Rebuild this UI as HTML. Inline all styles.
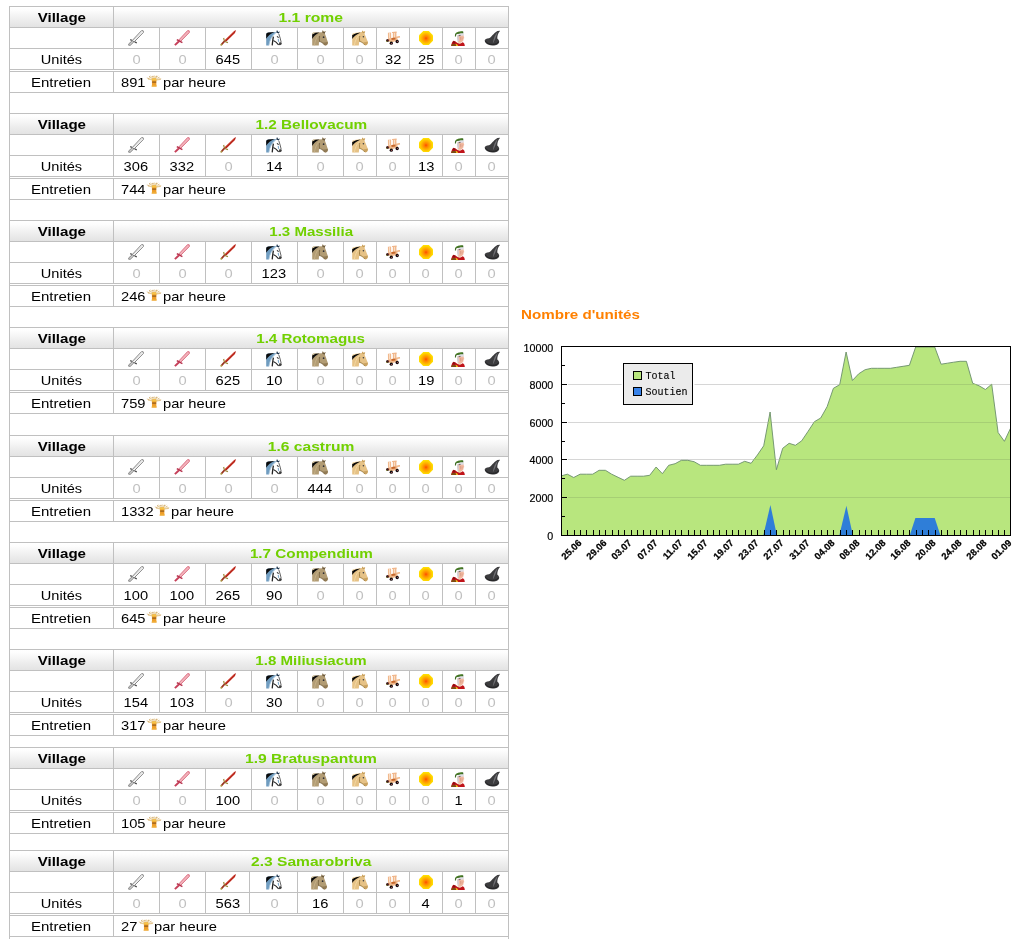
<!DOCTYPE html>
<html><head><meta charset="utf-8"><title>Statistiques</title>
<style>
html,body{margin:0;padding:0;background:#fff;}
body{width:1026px;height:942px;position:relative;overflow:hidden;font-family:"Liberation Sans",sans-serif;}
#wrap{position:absolute;left:0;top:0;width:1026px;height:942px;will-change:transform;}
.l{position:absolute;background:#c0c0c0;}
.hd{position:absolute;background:linear-gradient(to bottom,#ffffff 0%,#fdfdfd 15%,#f5f5f5 40%,#ececec 68%,#e3e3e3 100%);}
.t{position:absolute;font-size:13px;line-height:16px;white-space:nowrap;color:#000;}
.t span{display:inline-block;transform:scaleX(var(--sx,1.13));transform-origin:50% 50%;}
.t span.ls{transform-origin:0 50%;}
.t.b{font-weight:bold;}

.t.g{color:#71d000;}
.t.z{color:#c0c0c0;}
.ic{position:absolute;overflow:visible;}
.chart{position:absolute;font-family:"Liberation Sans",sans-serif;}
.yl{font-size:10.7px;fill:#000;stroke:#000;stroke-width:0.2px;}
.xl{font-size:9.5px;font-weight:bold;fill:#000;stroke:#000;stroke-width:0.25px;}
.lg{font-family:"Liberation Mono",monospace;font-size:10px;fill:#000;stroke:#000;stroke-width:0.1px;}
.title{position:absolute;left:520.8px;top:307px;font-size:13px;line-height:16px;font-weight:bold;color:#ff8000;white-space:nowrap;}
.title span{display:inline-block;transform:scaleX(1.166);transform-origin:0 50%;}
</style></head><body>
<svg width="0" height="0" style="position:absolute"><defs>
<radialGradient id="fg" cx="50%" cy="52%" r="50%"><stop offset="0" stop-color="#ff4a00"/><stop offset="0.25" stop-color="#ff8200"/><stop offset="0.55" stop-color="#ffaa00"/><stop offset="0.8" stop-color="#ffca00"/><stop offset="1" stop-color="#ffe000"/></radialGradient>
<symbol id="u1" viewBox="0 0 16 16"><path d="M2.2 9.6 L4.4 10.5 M6.6 11.9 L8.8 12.9" stroke="#4e4e4e" stroke-width="1.2"/><path d="M4.4 10.6 L5.8 12 L2.2 15.4 L0.6 15.2 L0.8 13.8 Z" fill="#c9c9c9" stroke="#787878" stroke-width="0.8"/><path d="M15.2 0.8 L13.6 0.6 L4.4 10.4 L6 12 L15.4 2.4 Z" fill="#fff" stroke="#808080" stroke-width="1"/><path d="M14 1.8 L5.4 10.8" stroke="#d8d8d8" stroke-width="0.7"/></symbol>
<symbol id="u2" viewBox="0 0 16 16"><path d="M15.2 0.8 L13.6 0.6 L4.6 10.2 L6.2 11.8 L15.4 2.4 Z" fill="#f3b2bb" stroke="#d8667a" stroke-width="0.9"/><path d="M2.8 9.6 L8.4 12.6" stroke="#b42c48" stroke-width="1.3"/><path d="M5 11.2 L0.9 15.1" stroke="#c6405a" stroke-width="2"/></symbol>
<symbol id="u3" viewBox="0 0 16 16"><path d="M15.8 0.2 L14.2 1 L4.4 10.6 L5.8 12 L15 3 Z" fill="#c9281c"/><path d="M15.6 0.6 L5.2 11.4" stroke="#8e1a12" stroke-width="0.8"/><path d="M14.6 1.2 L4.8 10.6" stroke="#e25a48" stroke-width="0.6"/><path d="M3.6 8 L4.2 10.2 L5 11.2 L6 12 L8 12.6" stroke="#9c8a3c" stroke-width="1.2" fill="none"/><path d="M4.6 11.2 L1.6 14.4" stroke="#9a3422" stroke-width="1.7"/><circle cx="1.3" cy="14.8" r="1" fill="#a8903c"/></symbol>
<symbol id="u4" viewBox="0 0 16 16"><path d="M0.2 15.6 L0.2 4.4 C0.4 3.2 1.2 2.6 2.4 2.5 L10.4 2 L10.6 0.2 L12 1.8 L13.4 1 L12.8 3.6 C14.4 6.6 15 10 15.8 13 C15.4 15 13.6 15.8 12 14.8 C10.6 13 8.6 12.4 7.6 12 L6.4 15.6 Z" fill="#fff"/><path d="M0.2 15.6 L0.2 4.4 C0.4 3.2 1.2 2.6 2.4 2.5 L10.6 2 C7 4.4 4 9 2.8 15.6 Z" fill="#6f9cc0"/><path d="M2.9 15.4 C3.6 10 6 5.4 9.8 3" fill="none" stroke="#a9c6dc" stroke-width="0.9"/><path d="M0.2 8.8 L0.2 4.4 C0.4 3.2 1.2 2.6 2.4 2.5 L8.6 2.1 C5 3.4 1.8 6 0.2 8.8 Z" fill="#0a0a0a"/><path d="M10.2 2.4 L11 0 L12.2 2 L13.9 1.4 L12.8 3.6 Z" fill="#20364e"/><path d="M7.4 6.6 C6.8 9.4 6.6 12 6.2 15.4" fill="none" stroke="#222" stroke-width="1.3"/><path d="M7.4 10.4 C9.6 11.2 11.4 13.2 12.6 14.8" fill="none" stroke="#222" stroke-width="1.1"/><path d="M13.6 12 C14.8 12 16 12.8 15.8 13.8 C15.4 15.2 13.8 15.6 12.6 14.8 Z" fill="#3e3e3e"/><path d="M12.8 3.8 C13.8 6.4 14.6 9.6 15.2 12.4" fill="none" stroke="#555" stroke-width="0.9"/><path d="M11 6.4 L12.6 7.6" stroke="#222" stroke-width="1.1"/><path d="M12.2 8.8 L12.7 11.8" stroke="#7fa8c8" stroke-width="1.1"/></symbol>
<symbol id="u5" viewBox="0 0 16 16"><path d="M0.2 15.6 L0.2 4 C0.3 3 1 2.5 2 2.5 L10.2 2.2 L10.8 0.2 L12 2 L13.6 1 L12.8 3.6 C13.8 5.6 14.6 8.6 16 12.6 C16 14.6 14.6 15.8 12.8 15.4 L10.6 13.2 C9.4 12.2 8 11.6 7 12 L6.8 15.6 Z" fill="#b29c74"/><path d="M0.2 9 L0.2 4.4 C1 3.2 2.4 2.9 4 2.8 L7.4 2.5 C4.2 4 1.6 6.4 0.2 9 Z" fill="#0a0a0a"/><path d="M0.3 3.8 C0.5 2.9 1.2 2.6 2 2.6 L4 2.6 L0.3 4.4 Z" fill="#dccfae"/><path d="M10.2 2.4 L10.8 0.2 L11.8 2.2 L13.6 1 L12.6 3.8 Z" fill="#6a583c"/><path d="M10.8 12.4 C12.4 12.8 14.2 12.4 15.7 11.8 C16.2 13.8 15 15.4 13 15.4 Z" fill="#8c7650" opacity="0.85"/><path d="M7.2 11.6 C9.4 11.6 10.8 12.8 12.6 15 M7.6 6 C7.2 8 7.2 10 7.6 11.4" fill="none" stroke="#7a6644" stroke-width="0.9"/><path d="M2.4 15.4 C3 11 4.6 7 7 4.4" fill="none" stroke="#c8b48c" stroke-width="0.8"/><circle cx="11.6" cy="7.2" r="0.85" fill="#2e2e34"/></symbol>
<symbol id="u6" viewBox="0 0 16 16"><path d="M0.2 15.6 L0.2 5 C0.4 3.8 1.2 3.1 2.4 3 L9.8 2 L10.6 0.4 L11.6 1.8 L13.2 1.2 L12.4 3.6 C13.6 6 14.6 9 16 12.2 C16 14 14.8 15.4 13.2 15.4 L10.8 13 C9.6 12 8.2 11.4 7.2 11.8 L6.8 15.6 Z" fill="#e6c286"/><path d="M0.2 9 L0.2 5.2 C1 4 2.4 3.5 4.2 3.2 L8.6 2.4 C4.6 4.2 1.6 6.6 0.2 9 Z" fill="#0a0a0a"/><path d="M0.3 4.6 C0.6 3.6 1.4 3.2 2.4 3.1 L4 2.9 L0.3 5 Z" fill="#f6e2b8"/><path d="M9.8 2.2 L10.6 0.4 L11.4 2 L13.2 1.2 L12.3 3.6 Z" fill="#c49c58"/><path d="M11 12.2 C12.6 12.6 14.2 12.2 15.7 11.6 C16.2 13.6 15 15.2 13.2 15.2 Z" fill="#c29a56" opacity="0.8"/><path d="M7.4 11.4 C9.6 11.6 10.8 12.8 12.8 15 M7.8 6 C7.4 8 7.4 10 7.8 11.2" fill="none" stroke="#9a7a3e" stroke-width="0.9"/><path d="M2.4 15.4 C3 11 4.6 7.4 7 4.8" fill="none" stroke="#f4dca8" stroke-width="0.8"/><circle cx="11.4" cy="6.8" r="0.8" fill="#3a3a3e"/></symbol>
<symbol id="u7" viewBox="0 0 16 16"><g transform="translate(0.6,-1)"><path d="M2.3 3.8 L5.5 3.4 L5.6 9.6 L2.4 9.8 Z M7.2 3.2 L10.8 2.9 L10.9 9.3 L7.3 9.5 Z" fill="#f1b98e"/><path d="M3.5 4 L4.3 4 L4.3 9.4 L3.5 9.4 Z M8.5 3.6 L9.3 3.6 L9.3 9.2 L8.5 9.2 Z" fill="#fbe6d2"/><path d="M6.4 2.9 L11 2.5 L11.1 3.8 L6.5 4.1 Z" fill="#f0b68a"/><path d="M10.5 7.7 L14.2 7.1 L14.5 8.5 L10.6 9.1 Z" fill="#eeae7a"/><path d="M2.4 9.4 L11.6 8.6 L12.2 11.6 L5.4 13.6 L2.2 11.8 Z" fill="#f1b98c"/><path d="M5.8 8.9 L9.8 8.6 L9.9 10.6 L6 11 Z" fill="#c6682c"/><circle cx="1.9" cy="11.5" r="1.5" fill="#3c1c1c"/><circle cx="1.2" cy="12.4" r="0.5" fill="#9ab83c"/><circle cx="5.7" cy="14.2" r="1.65" fill="#150b0f"/><circle cx="11.6" cy="12.5" r="1.65" fill="#150b0f"/><circle cx="6.1" cy="14.5" r="0.55" fill="#c86a6a"/><circle cx="12" cy="12.4" r="0.5" fill="#c86a6a"/><circle cx="3.4" cy="11" r="0.5" fill="#c83a1a"/><circle cx="4.6" cy="12.6" r="0.45" fill="#9ab83c"/></g></symbol>
<symbol id="u8" viewBox="0 0 16 16"><path d="M5.2 1 L10.8 1 L15 5.2 L15 10.8 L10.8 15 L5.2 15 L1 10.8 L1 5.2 Z" fill="url(#fg)"/></symbol>
<symbol id="u9" viewBox="0 0 16 16"><path d="M0.2 16 C0.4 13.6 1.4 11.4 2.4 10.8 L4.4 11.6 L6.6 13 L10 13.2 L11.6 12.2 C13 12.6 13.8 14.2 13.8 16 Z" fill="#c0141a"/><path d="M2.4 10.9 L4.6 11.8 L3.8 13.6 L1.6 13.2 Z" fill="#8e0e12"/><path d="M0.2 16 L0.8 13.9 L4.8 13.9 L5.4 16 Z" fill="#7e4c12"/><path d="M4.6 13.8 L6.2 14.6 L7.2 16 L5.2 16 Z" fill="#f2c21e"/><path d="M6.6 11 L10.2 11 L10.4 13 L8.6 13.8 L6.6 13 Z" fill="#f0d6be"/><path d="M6.4 5.2 L12.4 4.6 L12.8 6.6 L13.3 8 L12.6 8.8 L12.4 10.6 L11 12 L8.8 12.4 L6.8 11.4 L6.2 8 Z" fill="#f2b9a0"/><path d="M6.4 5.6 L7.6 5.6 L7.9 11.6 L6.8 11.2 L6.2 8 Z" fill="#cfd0da"/><path d="M9.4 7 L9.8 10.4 M11 7.4 L11.2 9.6" stroke="#d89a84" stroke-width="0.8" fill="none"/><path d="M7.4 3.6 L12.6 3.2 L12.9 5.4 L10.4 5.8 L7.6 5.9 Z" fill="#dedee6"/><path d="M7.6 5.7 L9.6 5.4" stroke="#5a4a4a" stroke-width="0.8"/><path d="M4.4 3.4 C6 2 9.6 1 12.2 1.4 L12.4 3.2 C10 3 7 3.6 5.2 4.6 L5 6.4 L3.9 6.6 L4 4.6 Z" fill="#3c6a22"/><path d="M5.4 3.2 L7.4 2.4 M8.6 2.2 L11 1.9" stroke="#5c962e" stroke-width="0.7"/></symbol>
<symbol id="u10" viewBox="0 0 16 16"><path d="M16.2 0.7 L13.4 0.9 C11.4 2.2 9.6 3.8 8.6 5 C7.4 6.6 6.4 7.6 5 8.2 C2.6 8.4 0.7 9.2 0.7 10.6 C0.9 13.4 4 15.4 8.2 15.6 C12 15.8 15.2 14.2 15.2 11.8 C15.2 10.4 14.4 9.4 13.3 8.4 C13.2 5.6 14.2 2.8 16.2 0.7 Z" fill="#3c3c3e"/><path d="M13.6 2 C11.2 4.6 9.4 8 8.8 13.4 C10.8 10.4 12.2 6.4 13.6 2 Z" fill="#707074"/><path d="M1.4 11 C2.4 13.2 5.4 14.4 8.4 14.4 C11.4 14.4 13.8 13.4 14.4 11.8" fill="none" stroke="#1e1e20" stroke-width="0.9"/></symbol>
<symbol id="wheat" viewBox="0 0 16 12"><g stroke="#e3c486" stroke-width="0.9" stroke-linecap="round" opacity="0.9" fill="none"><path d="M8 5.4 L1.2 3 M8 5.4 L2.6 4.2 M8 5.4 L3.4 1.6 M8 5.4 L4.8 1 M8 5.4 L6.6 1.3 M8 5.4 L8.3 0.9 M8 5.4 L10 1.1 M8 5.4 L11.6 1 M8 5.4 L13 2.2 M8 5.4 L14.8 3.8 M8 5.4 L13.8 4.6"/></g><g fill="#c89c62" opacity="0.85"><circle cx="3.6" cy="1.8" r="0.6"/><circle cx="7" cy="1.4" r="0.6"/><circle cx="10.6" cy="1.3" r="0.6"/><circle cx="13" cy="3" r="0.6"/><circle cx="2.4" cy="3.8" r="0.5"/><circle cx="14.2" cy="4.2" r="0.5"/></g><path d="M6.3 3.6 L10 3.6 L10.4 5.4 L10.3 11 L10.7 11.4 L5.6 11.4 L6 11 L5.9 5.4 Z" fill="#ee9c2a"/><path d="M6.3 3.6 L10 3.6 L10.4 5.6 L5.9 5.6 Z" fill="#f5c448"/><path d="M6.2 6.5 L10.2 6.5 L10.2 7.7 L6.2 7.7 Z" fill="#6e4416" opacity="0.75"/><path d="M6 9.8 L10.3 9.8 L10.7 11.4 L5.6 11.4 Z" fill="#f0ac34"/></symbol>
</defs></svg>

<div id="wrap">
<div class="l" style="left:9px;top:6px;width:1px;height:933px"></div>
<div class="l" style="left:508px;top:6px;width:1px;height:933px"></div>
<div class="hd" style="left:10px;top:7px;width:498px;height:20px"></div>
<div class="l" style="left:9px;top:6px;width:500px;height:1px"></div>
<div class="l" style="left:9px;top:27px;width:500px;height:1px"></div>
<div class="l" style="left:9px;top:48px;width:500px;height:1px"></div>
<div class="l" style="left:9px;top:69px;width:500px;height:1px"></div>
<div class="l" style="left:9px;top:71px;width:500px;height:1px"></div>
<div class="l" style="left:9px;top:92px;width:500px;height:1px"></div>
<div class="l" style="left:113px;top:6px;width:1px;height:64px"></div>
<div class="l" style="left:113px;top:71px;width:1px;height:22px"></div>
<div class="l" style="left:159px;top:27px;width:1px;height:43px"></div>
<div class="l" style="left:205px;top:27px;width:1px;height:43px"></div>
<div class="l" style="left:251px;top:27px;width:1px;height:43px"></div>
<div class="l" style="left:297px;top:27px;width:1px;height:43px"></div>
<div class="l" style="left:343px;top:27px;width:1px;height:43px"></div>
<div class="l" style="left:376px;top:27px;width:1px;height:43px"></div>
<div class="l" style="left:409px;top:27px;width:1px;height:43px"></div>
<div class="l" style="left:442px;top:27px;width:1px;height:43px"></div>
<div class="l" style="left:475px;top:27px;width:1px;height:43px"></div>
<div class="t b" style="left:-88.6px;top:10px;width:300px;text-align:center;--sx:1.16;"><span>Village</span></div>
<div class="t b g" style="left:161.0px;top:10px;width:300px;text-align:center;--sx:1.207;"><span>1.1 rome</span></div>
<div class="t n" style="left:-88.7px;top:52px;width:300px;text-align:center;--sx:1.12;"><span>Unit&eacute;s</span></div>
<div class="t n" style="left:-89.0px;top:75px;width:300px;text-align:center;--sx:1.155;"><span>Entretien</span></div>
<svg class="ic" style="left:128px;top:30px" width="16" height="16" viewBox="0 0 16 16"><use href="#u1"/></svg>
<div class="t n z" style="left:-13.7px;top:52px;width:300px;text-align:center;"><span>0</span></div>
<svg class="ic" style="left:174px;top:30px" width="16" height="16" viewBox="0 0 16 16"><use href="#u2"/></svg>
<div class="t n z" style="left:32.3px;top:52px;width:300px;text-align:center;"><span>0</span></div>
<svg class="ic" style="left:220px;top:30px" width="16" height="16" viewBox="0 0 16 16"><use href="#u3"/></svg>
<div class="t n" style="left:78.3px;top:52px;width:300px;text-align:center;"><span>645</span></div>
<svg class="ic" style="left:266px;top:30px" width="16" height="16" viewBox="0 0 16 16"><use href="#u4"/></svg>
<div class="t n z" style="left:124.3px;top:52px;width:300px;text-align:center;"><span>0</span></div>
<svg class="ic" style="left:312px;top:30px" width="16" height="16" viewBox="0 0 16 16"><use href="#u5"/></svg>
<div class="t n z" style="left:170.3px;top:52px;width:300px;text-align:center;"><span>0</span></div>
<svg class="ic" style="left:352px;top:30px" width="16" height="16" viewBox="0 0 16 16"><use href="#u6"/></svg>
<div class="t n z" style="left:209.8px;top:52px;width:300px;text-align:center;"><span>0</span></div>
<svg class="ic" style="left:385px;top:30px" width="16" height="16" viewBox="0 0 16 16"><use href="#u7"/></svg>
<div class="t n" style="left:242.8px;top:52px;width:300px;text-align:center;"><span>32</span></div>
<svg class="ic" style="left:418px;top:30px" width="16" height="16" viewBox="0 0 16 16"><use href="#u8"/></svg>
<div class="t n" style="left:275.8px;top:52px;width:300px;text-align:center;"><span>25</span></div>
<svg class="ic" style="left:451px;top:30px" width="16" height="16" viewBox="0 0 16 16"><use href="#u9"/></svg>
<div class="t n z" style="left:308.8px;top:52px;width:300px;text-align:center;"><span>0</span></div>
<svg class="ic" style="left:484px;top:30px" width="16" height="16" viewBox="0 0 16 16"><use href="#u10"/></svg>
<div class="t n z" style="left:341.8px;top:52px;width:300px;text-align:center;"><span>0</span></div>
<div class="t n" style="left:120.5px;top:75px;text-align:left;"><span class="ls">891</span></div>
<svg class="ic" style="left:145.8px;top:75px" width="16" height="12" viewBox="0 0 16 12"><use href="#wheat"/></svg>
<div class="t n" style="left:162.5px;top:75px;text-align:left;"><span class="ls">par heure</span></div>
<div class="hd" style="left:10px;top:114px;width:498px;height:20px"></div>
<div class="l" style="left:9px;top:113px;width:500px;height:1px"></div>
<div class="l" style="left:9px;top:134px;width:500px;height:1px"></div>
<div class="l" style="left:9px;top:155px;width:500px;height:1px"></div>
<div class="l" style="left:9px;top:176px;width:500px;height:1px"></div>
<div class="l" style="left:9px;top:178px;width:500px;height:1px"></div>
<div class="l" style="left:9px;top:199px;width:500px;height:1px"></div>
<div class="l" style="left:113px;top:113px;width:1px;height:64px"></div>
<div class="l" style="left:113px;top:178px;width:1px;height:22px"></div>
<div class="l" style="left:159px;top:134px;width:1px;height:43px"></div>
<div class="l" style="left:205px;top:134px;width:1px;height:43px"></div>
<div class="l" style="left:251px;top:134px;width:1px;height:43px"></div>
<div class="l" style="left:297px;top:134px;width:1px;height:43px"></div>
<div class="l" style="left:343px;top:134px;width:1px;height:43px"></div>
<div class="l" style="left:376px;top:134px;width:1px;height:43px"></div>
<div class="l" style="left:409px;top:134px;width:1px;height:43px"></div>
<div class="l" style="left:442px;top:134px;width:1px;height:43px"></div>
<div class="l" style="left:475px;top:134px;width:1px;height:43px"></div>
<div class="t b" style="left:-88.6px;top:117px;width:300px;text-align:center;--sx:1.16;"><span>Village</span></div>
<div class="t b g" style="left:161.0px;top:117px;width:300px;text-align:center;--sx:1.182;"><span>1.2 Bellovacum</span></div>
<div class="t n" style="left:-88.7px;top:159px;width:300px;text-align:center;--sx:1.12;"><span>Unit&eacute;s</span></div>
<div class="t n" style="left:-89.0px;top:182px;width:300px;text-align:center;--sx:1.155;"><span>Entretien</span></div>
<svg class="ic" style="left:128px;top:137px" width="16" height="16" viewBox="0 0 16 16"><use href="#u1"/></svg>
<div class="t n" style="left:-13.7px;top:159px;width:300px;text-align:center;"><span>306</span></div>
<svg class="ic" style="left:174px;top:137px" width="16" height="16" viewBox="0 0 16 16"><use href="#u2"/></svg>
<div class="t n" style="left:32.3px;top:159px;width:300px;text-align:center;"><span>332</span></div>
<svg class="ic" style="left:220px;top:137px" width="16" height="16" viewBox="0 0 16 16"><use href="#u3"/></svg>
<div class="t n z" style="left:78.3px;top:159px;width:300px;text-align:center;"><span>0</span></div>
<svg class="ic" style="left:266px;top:137px" width="16" height="16" viewBox="0 0 16 16"><use href="#u4"/></svg>
<div class="t n" style="left:124.3px;top:159px;width:300px;text-align:center;"><span>14</span></div>
<svg class="ic" style="left:312px;top:137px" width="16" height="16" viewBox="0 0 16 16"><use href="#u5"/></svg>
<div class="t n z" style="left:170.3px;top:159px;width:300px;text-align:center;"><span>0</span></div>
<svg class="ic" style="left:352px;top:137px" width="16" height="16" viewBox="0 0 16 16"><use href="#u6"/></svg>
<div class="t n z" style="left:209.8px;top:159px;width:300px;text-align:center;"><span>0</span></div>
<svg class="ic" style="left:385px;top:137px" width="16" height="16" viewBox="0 0 16 16"><use href="#u7"/></svg>
<div class="t n z" style="left:242.8px;top:159px;width:300px;text-align:center;"><span>0</span></div>
<svg class="ic" style="left:418px;top:137px" width="16" height="16" viewBox="0 0 16 16"><use href="#u8"/></svg>
<div class="t n" style="left:275.8px;top:159px;width:300px;text-align:center;"><span>13</span></div>
<svg class="ic" style="left:451px;top:137px" width="16" height="16" viewBox="0 0 16 16"><use href="#u9"/></svg>
<div class="t n z" style="left:308.8px;top:159px;width:300px;text-align:center;"><span>0</span></div>
<svg class="ic" style="left:484px;top:137px" width="16" height="16" viewBox="0 0 16 16"><use href="#u10"/></svg>
<div class="t n z" style="left:341.8px;top:159px;width:300px;text-align:center;"><span>0</span></div>
<div class="t n" style="left:120.5px;top:182px;text-align:left;"><span class="ls">744</span></div>
<svg class="ic" style="left:145.8px;top:182px" width="16" height="12" viewBox="0 0 16 12"><use href="#wheat"/></svg>
<div class="t n" style="left:162.5px;top:182px;text-align:left;"><span class="ls">par heure</span></div>
<div class="hd" style="left:10px;top:221px;width:498px;height:20px"></div>
<div class="l" style="left:9px;top:220px;width:500px;height:1px"></div>
<div class="l" style="left:9px;top:241px;width:500px;height:1px"></div>
<div class="l" style="left:9px;top:262px;width:500px;height:1px"></div>
<div class="l" style="left:9px;top:283px;width:500px;height:1px"></div>
<div class="l" style="left:9px;top:285px;width:500px;height:1px"></div>
<div class="l" style="left:9px;top:306px;width:500px;height:1px"></div>
<div class="l" style="left:113px;top:220px;width:1px;height:64px"></div>
<div class="l" style="left:113px;top:285px;width:1px;height:22px"></div>
<div class="l" style="left:159px;top:241px;width:1px;height:43px"></div>
<div class="l" style="left:205px;top:241px;width:1px;height:43px"></div>
<div class="l" style="left:251px;top:241px;width:1px;height:43px"></div>
<div class="l" style="left:297px;top:241px;width:1px;height:43px"></div>
<div class="l" style="left:343px;top:241px;width:1px;height:43px"></div>
<div class="l" style="left:376px;top:241px;width:1px;height:43px"></div>
<div class="l" style="left:409px;top:241px;width:1px;height:43px"></div>
<div class="l" style="left:442px;top:241px;width:1px;height:43px"></div>
<div class="l" style="left:475px;top:241px;width:1px;height:43px"></div>
<div class="t b" style="left:-88.6px;top:224px;width:300px;text-align:center;--sx:1.16;"><span>Village</span></div>
<div class="t b g" style="left:161.0px;top:224px;width:300px;text-align:center;--sx:1.159;"><span>1.3 Massilia</span></div>
<div class="t n" style="left:-88.7px;top:266px;width:300px;text-align:center;--sx:1.12;"><span>Unit&eacute;s</span></div>
<div class="t n" style="left:-89.0px;top:289px;width:300px;text-align:center;--sx:1.155;"><span>Entretien</span></div>
<svg class="ic" style="left:128px;top:244px" width="16" height="16" viewBox="0 0 16 16"><use href="#u1"/></svg>
<div class="t n z" style="left:-13.7px;top:266px;width:300px;text-align:center;"><span>0</span></div>
<svg class="ic" style="left:174px;top:244px" width="16" height="16" viewBox="0 0 16 16"><use href="#u2"/></svg>
<div class="t n z" style="left:32.3px;top:266px;width:300px;text-align:center;"><span>0</span></div>
<svg class="ic" style="left:220px;top:244px" width="16" height="16" viewBox="0 0 16 16"><use href="#u3"/></svg>
<div class="t n z" style="left:78.3px;top:266px;width:300px;text-align:center;"><span>0</span></div>
<svg class="ic" style="left:266px;top:244px" width="16" height="16" viewBox="0 0 16 16"><use href="#u4"/></svg>
<div class="t n" style="left:124.3px;top:266px;width:300px;text-align:center;"><span>123</span></div>
<svg class="ic" style="left:312px;top:244px" width="16" height="16" viewBox="0 0 16 16"><use href="#u5"/></svg>
<div class="t n z" style="left:170.3px;top:266px;width:300px;text-align:center;"><span>0</span></div>
<svg class="ic" style="left:352px;top:244px" width="16" height="16" viewBox="0 0 16 16"><use href="#u6"/></svg>
<div class="t n z" style="left:209.8px;top:266px;width:300px;text-align:center;"><span>0</span></div>
<svg class="ic" style="left:385px;top:244px" width="16" height="16" viewBox="0 0 16 16"><use href="#u7"/></svg>
<div class="t n z" style="left:242.8px;top:266px;width:300px;text-align:center;"><span>0</span></div>
<svg class="ic" style="left:418px;top:244px" width="16" height="16" viewBox="0 0 16 16"><use href="#u8"/></svg>
<div class="t n z" style="left:275.8px;top:266px;width:300px;text-align:center;"><span>0</span></div>
<svg class="ic" style="left:451px;top:244px" width="16" height="16" viewBox="0 0 16 16"><use href="#u9"/></svg>
<div class="t n z" style="left:308.8px;top:266px;width:300px;text-align:center;"><span>0</span></div>
<svg class="ic" style="left:484px;top:244px" width="16" height="16" viewBox="0 0 16 16"><use href="#u10"/></svg>
<div class="t n z" style="left:341.8px;top:266px;width:300px;text-align:center;"><span>0</span></div>
<div class="t n" style="left:120.5px;top:289px;text-align:left;"><span class="ls">246</span></div>
<svg class="ic" style="left:145.8px;top:289px" width="16" height="12" viewBox="0 0 16 12"><use href="#wheat"/></svg>
<div class="t n" style="left:162.5px;top:289px;text-align:left;"><span class="ls">par heure</span></div>
<div class="hd" style="left:10px;top:328px;width:498px;height:20px"></div>
<div class="l" style="left:9px;top:327px;width:500px;height:1px"></div>
<div class="l" style="left:9px;top:348px;width:500px;height:1px"></div>
<div class="l" style="left:9px;top:369px;width:500px;height:1px"></div>
<div class="l" style="left:9px;top:390px;width:500px;height:1px"></div>
<div class="l" style="left:9px;top:392px;width:500px;height:1px"></div>
<div class="l" style="left:9px;top:413px;width:500px;height:1px"></div>
<div class="l" style="left:113px;top:327px;width:1px;height:64px"></div>
<div class="l" style="left:113px;top:392px;width:1px;height:22px"></div>
<div class="l" style="left:159px;top:348px;width:1px;height:43px"></div>
<div class="l" style="left:205px;top:348px;width:1px;height:43px"></div>
<div class="l" style="left:251px;top:348px;width:1px;height:43px"></div>
<div class="l" style="left:297px;top:348px;width:1px;height:43px"></div>
<div class="l" style="left:343px;top:348px;width:1px;height:43px"></div>
<div class="l" style="left:376px;top:348px;width:1px;height:43px"></div>
<div class="l" style="left:409px;top:348px;width:1px;height:43px"></div>
<div class="l" style="left:442px;top:348px;width:1px;height:43px"></div>
<div class="l" style="left:475px;top:348px;width:1px;height:43px"></div>
<div class="t b" style="left:-88.6px;top:331px;width:300px;text-align:center;--sx:1.16;"><span>Village</span></div>
<div class="t b g" style="left:161.0px;top:331px;width:300px;text-align:center;--sx:1.167;"><span>1.4 Rotomagus</span></div>
<div class="t n" style="left:-88.7px;top:373px;width:300px;text-align:center;--sx:1.12;"><span>Unit&eacute;s</span></div>
<div class="t n" style="left:-89.0px;top:396px;width:300px;text-align:center;--sx:1.155;"><span>Entretien</span></div>
<svg class="ic" style="left:128px;top:351px" width="16" height="16" viewBox="0 0 16 16"><use href="#u1"/></svg>
<div class="t n z" style="left:-13.7px;top:373px;width:300px;text-align:center;"><span>0</span></div>
<svg class="ic" style="left:174px;top:351px" width="16" height="16" viewBox="0 0 16 16"><use href="#u2"/></svg>
<div class="t n z" style="left:32.3px;top:373px;width:300px;text-align:center;"><span>0</span></div>
<svg class="ic" style="left:220px;top:351px" width="16" height="16" viewBox="0 0 16 16"><use href="#u3"/></svg>
<div class="t n" style="left:78.3px;top:373px;width:300px;text-align:center;"><span>625</span></div>
<svg class="ic" style="left:266px;top:351px" width="16" height="16" viewBox="0 0 16 16"><use href="#u4"/></svg>
<div class="t n" style="left:124.3px;top:373px;width:300px;text-align:center;"><span>10</span></div>
<svg class="ic" style="left:312px;top:351px" width="16" height="16" viewBox="0 0 16 16"><use href="#u5"/></svg>
<div class="t n z" style="left:170.3px;top:373px;width:300px;text-align:center;"><span>0</span></div>
<svg class="ic" style="left:352px;top:351px" width="16" height="16" viewBox="0 0 16 16"><use href="#u6"/></svg>
<div class="t n z" style="left:209.8px;top:373px;width:300px;text-align:center;"><span>0</span></div>
<svg class="ic" style="left:385px;top:351px" width="16" height="16" viewBox="0 0 16 16"><use href="#u7"/></svg>
<div class="t n z" style="left:242.8px;top:373px;width:300px;text-align:center;"><span>0</span></div>
<svg class="ic" style="left:418px;top:351px" width="16" height="16" viewBox="0 0 16 16"><use href="#u8"/></svg>
<div class="t n" style="left:275.8px;top:373px;width:300px;text-align:center;"><span>19</span></div>
<svg class="ic" style="left:451px;top:351px" width="16" height="16" viewBox="0 0 16 16"><use href="#u9"/></svg>
<div class="t n z" style="left:308.8px;top:373px;width:300px;text-align:center;"><span>0</span></div>
<svg class="ic" style="left:484px;top:351px" width="16" height="16" viewBox="0 0 16 16"><use href="#u10"/></svg>
<div class="t n z" style="left:341.8px;top:373px;width:300px;text-align:center;"><span>0</span></div>
<div class="t n" style="left:120.5px;top:396px;text-align:left;"><span class="ls">759</span></div>
<svg class="ic" style="left:145.8px;top:396px" width="16" height="12" viewBox="0 0 16 12"><use href="#wheat"/></svg>
<div class="t n" style="left:162.5px;top:396px;text-align:left;"><span class="ls">par heure</span></div>
<div class="hd" style="left:10px;top:436px;width:498px;height:20px"></div>
<div class="l" style="left:9px;top:435px;width:500px;height:1px"></div>
<div class="l" style="left:9px;top:456px;width:500px;height:1px"></div>
<div class="l" style="left:9px;top:477px;width:500px;height:1px"></div>
<div class="l" style="left:9px;top:498px;width:500px;height:1px"></div>
<div class="l" style="left:9px;top:500px;width:500px;height:1px"></div>
<div class="l" style="left:9px;top:521px;width:500px;height:1px"></div>
<div class="l" style="left:113px;top:435px;width:1px;height:64px"></div>
<div class="l" style="left:113px;top:500px;width:1px;height:22px"></div>
<div class="l" style="left:159px;top:456px;width:1px;height:43px"></div>
<div class="l" style="left:205px;top:456px;width:1px;height:43px"></div>
<div class="l" style="left:251px;top:456px;width:1px;height:43px"></div>
<div class="l" style="left:297px;top:456px;width:1px;height:43px"></div>
<div class="l" style="left:343px;top:456px;width:1px;height:43px"></div>
<div class="l" style="left:376px;top:456px;width:1px;height:43px"></div>
<div class="l" style="left:409px;top:456px;width:1px;height:43px"></div>
<div class="l" style="left:442px;top:456px;width:1px;height:43px"></div>
<div class="l" style="left:475px;top:456px;width:1px;height:43px"></div>
<div class="t b" style="left:-88.6px;top:439px;width:300px;text-align:center;--sx:1.16;"><span>Village</span></div>
<div class="t b g" style="left:161.0px;top:439px;width:300px;text-align:center;--sx:1.200;"><span>1.6 castrum</span></div>
<div class="t n" style="left:-88.7px;top:481px;width:300px;text-align:center;--sx:1.12;"><span>Unit&eacute;s</span></div>
<div class="t n" style="left:-89.0px;top:504px;width:300px;text-align:center;--sx:1.155;"><span>Entretien</span></div>
<svg class="ic" style="left:128px;top:459px" width="16" height="16" viewBox="0 0 16 16"><use href="#u1"/></svg>
<div class="t n z" style="left:-13.7px;top:481px;width:300px;text-align:center;"><span>0</span></div>
<svg class="ic" style="left:174px;top:459px" width="16" height="16" viewBox="0 0 16 16"><use href="#u2"/></svg>
<div class="t n z" style="left:32.3px;top:481px;width:300px;text-align:center;"><span>0</span></div>
<svg class="ic" style="left:220px;top:459px" width="16" height="16" viewBox="0 0 16 16"><use href="#u3"/></svg>
<div class="t n z" style="left:78.3px;top:481px;width:300px;text-align:center;"><span>0</span></div>
<svg class="ic" style="left:266px;top:459px" width="16" height="16" viewBox="0 0 16 16"><use href="#u4"/></svg>
<div class="t n z" style="left:124.3px;top:481px;width:300px;text-align:center;"><span>0</span></div>
<svg class="ic" style="left:312px;top:459px" width="16" height="16" viewBox="0 0 16 16"><use href="#u5"/></svg>
<div class="t n" style="left:170.3px;top:481px;width:300px;text-align:center;"><span>444</span></div>
<svg class="ic" style="left:352px;top:459px" width="16" height="16" viewBox="0 0 16 16"><use href="#u6"/></svg>
<div class="t n z" style="left:209.8px;top:481px;width:300px;text-align:center;"><span>0</span></div>
<svg class="ic" style="left:385px;top:459px" width="16" height="16" viewBox="0 0 16 16"><use href="#u7"/></svg>
<div class="t n z" style="left:242.8px;top:481px;width:300px;text-align:center;"><span>0</span></div>
<svg class="ic" style="left:418px;top:459px" width="16" height="16" viewBox="0 0 16 16"><use href="#u8"/></svg>
<div class="t n z" style="left:275.8px;top:481px;width:300px;text-align:center;"><span>0</span></div>
<svg class="ic" style="left:451px;top:459px" width="16" height="16" viewBox="0 0 16 16"><use href="#u9"/></svg>
<div class="t n z" style="left:308.8px;top:481px;width:300px;text-align:center;"><span>0</span></div>
<svg class="ic" style="left:484px;top:459px" width="16" height="16" viewBox="0 0 16 16"><use href="#u10"/></svg>
<div class="t n z" style="left:341.8px;top:481px;width:300px;text-align:center;"><span>0</span></div>
<div class="t n" style="left:120.5px;top:504px;text-align:left;"><span class="ls">1332</span></div>
<svg class="ic" style="left:154.1px;top:504px" width="16" height="12" viewBox="0 0 16 12"><use href="#wheat"/></svg>
<div class="t n" style="left:170.8px;top:504px;text-align:left;"><span class="ls">par heure</span></div>
<div class="hd" style="left:10px;top:543px;width:498px;height:20px"></div>
<div class="l" style="left:9px;top:542px;width:500px;height:1px"></div>
<div class="l" style="left:9px;top:563px;width:500px;height:1px"></div>
<div class="l" style="left:9px;top:584px;width:500px;height:1px"></div>
<div class="l" style="left:9px;top:605px;width:500px;height:1px"></div>
<div class="l" style="left:9px;top:607px;width:500px;height:1px"></div>
<div class="l" style="left:9px;top:628px;width:500px;height:1px"></div>
<div class="l" style="left:113px;top:542px;width:1px;height:64px"></div>
<div class="l" style="left:113px;top:607px;width:1px;height:22px"></div>
<div class="l" style="left:159px;top:563px;width:1px;height:43px"></div>
<div class="l" style="left:205px;top:563px;width:1px;height:43px"></div>
<div class="l" style="left:251px;top:563px;width:1px;height:43px"></div>
<div class="l" style="left:297px;top:563px;width:1px;height:43px"></div>
<div class="l" style="left:343px;top:563px;width:1px;height:43px"></div>
<div class="l" style="left:376px;top:563px;width:1px;height:43px"></div>
<div class="l" style="left:409px;top:563px;width:1px;height:43px"></div>
<div class="l" style="left:442px;top:563px;width:1px;height:43px"></div>
<div class="l" style="left:475px;top:563px;width:1px;height:43px"></div>
<div class="t b" style="left:-88.6px;top:546px;width:300px;text-align:center;--sx:1.16;"><span>Village</span></div>
<div class="t b g" style="left:161.0px;top:546px;width:300px;text-align:center;--sx:1.174;"><span>1.7 Compendium</span></div>
<div class="t n" style="left:-88.7px;top:588px;width:300px;text-align:center;--sx:1.12;"><span>Unit&eacute;s</span></div>
<div class="t n" style="left:-89.0px;top:611px;width:300px;text-align:center;--sx:1.155;"><span>Entretien</span></div>
<svg class="ic" style="left:128px;top:566px" width="16" height="16" viewBox="0 0 16 16"><use href="#u1"/></svg>
<div class="t n" style="left:-13.7px;top:588px;width:300px;text-align:center;"><span>100</span></div>
<svg class="ic" style="left:174px;top:566px" width="16" height="16" viewBox="0 0 16 16"><use href="#u2"/></svg>
<div class="t n" style="left:32.3px;top:588px;width:300px;text-align:center;"><span>100</span></div>
<svg class="ic" style="left:220px;top:566px" width="16" height="16" viewBox="0 0 16 16"><use href="#u3"/></svg>
<div class="t n" style="left:78.3px;top:588px;width:300px;text-align:center;"><span>265</span></div>
<svg class="ic" style="left:266px;top:566px" width="16" height="16" viewBox="0 0 16 16"><use href="#u4"/></svg>
<div class="t n" style="left:124.3px;top:588px;width:300px;text-align:center;"><span>90</span></div>
<svg class="ic" style="left:312px;top:566px" width="16" height="16" viewBox="0 0 16 16"><use href="#u5"/></svg>
<div class="t n z" style="left:170.3px;top:588px;width:300px;text-align:center;"><span>0</span></div>
<svg class="ic" style="left:352px;top:566px" width="16" height="16" viewBox="0 0 16 16"><use href="#u6"/></svg>
<div class="t n z" style="left:209.8px;top:588px;width:300px;text-align:center;"><span>0</span></div>
<svg class="ic" style="left:385px;top:566px" width="16" height="16" viewBox="0 0 16 16"><use href="#u7"/></svg>
<div class="t n z" style="left:242.8px;top:588px;width:300px;text-align:center;"><span>0</span></div>
<svg class="ic" style="left:418px;top:566px" width="16" height="16" viewBox="0 0 16 16"><use href="#u8"/></svg>
<div class="t n z" style="left:275.8px;top:588px;width:300px;text-align:center;"><span>0</span></div>
<svg class="ic" style="left:451px;top:566px" width="16" height="16" viewBox="0 0 16 16"><use href="#u9"/></svg>
<div class="t n z" style="left:308.8px;top:588px;width:300px;text-align:center;"><span>0</span></div>
<svg class="ic" style="left:484px;top:566px" width="16" height="16" viewBox="0 0 16 16"><use href="#u10"/></svg>
<div class="t n z" style="left:341.8px;top:588px;width:300px;text-align:center;"><span>0</span></div>
<div class="t n" style="left:120.5px;top:611px;text-align:left;"><span class="ls">645</span></div>
<svg class="ic" style="left:145.8px;top:611px" width="16" height="12" viewBox="0 0 16 12"><use href="#wheat"/></svg>
<div class="t n" style="left:162.5px;top:611px;text-align:left;"><span class="ls">par heure</span></div>
<div class="hd" style="left:10px;top:650px;width:498px;height:20px"></div>
<div class="l" style="left:9px;top:649px;width:500px;height:1px"></div>
<div class="l" style="left:9px;top:670px;width:500px;height:1px"></div>
<div class="l" style="left:9px;top:691px;width:500px;height:1px"></div>
<div class="l" style="left:9px;top:712px;width:500px;height:1px"></div>
<div class="l" style="left:9px;top:714px;width:500px;height:1px"></div>
<div class="l" style="left:9px;top:735px;width:500px;height:1px"></div>
<div class="l" style="left:113px;top:649px;width:1px;height:64px"></div>
<div class="l" style="left:113px;top:714px;width:1px;height:22px"></div>
<div class="l" style="left:159px;top:670px;width:1px;height:43px"></div>
<div class="l" style="left:205px;top:670px;width:1px;height:43px"></div>
<div class="l" style="left:251px;top:670px;width:1px;height:43px"></div>
<div class="l" style="left:297px;top:670px;width:1px;height:43px"></div>
<div class="l" style="left:343px;top:670px;width:1px;height:43px"></div>
<div class="l" style="left:376px;top:670px;width:1px;height:43px"></div>
<div class="l" style="left:409px;top:670px;width:1px;height:43px"></div>
<div class="l" style="left:442px;top:670px;width:1px;height:43px"></div>
<div class="l" style="left:475px;top:670px;width:1px;height:43px"></div>
<div class="t b" style="left:-88.6px;top:653px;width:300px;text-align:center;--sx:1.16;"><span>Village</span></div>
<div class="t b g" style="left:161.0px;top:653px;width:300px;text-align:center;--sx:1.159;"><span>1.8 Miliusiacum</span></div>
<div class="t n" style="left:-88.7px;top:695px;width:300px;text-align:center;--sx:1.12;"><span>Unit&eacute;s</span></div>
<div class="t n" style="left:-89.0px;top:718px;width:300px;text-align:center;--sx:1.155;"><span>Entretien</span></div>
<svg class="ic" style="left:128px;top:673px" width="16" height="16" viewBox="0 0 16 16"><use href="#u1"/></svg>
<div class="t n" style="left:-13.7px;top:695px;width:300px;text-align:center;"><span>154</span></div>
<svg class="ic" style="left:174px;top:673px" width="16" height="16" viewBox="0 0 16 16"><use href="#u2"/></svg>
<div class="t n" style="left:32.3px;top:695px;width:300px;text-align:center;"><span>103</span></div>
<svg class="ic" style="left:220px;top:673px" width="16" height="16" viewBox="0 0 16 16"><use href="#u3"/></svg>
<div class="t n z" style="left:78.3px;top:695px;width:300px;text-align:center;"><span>0</span></div>
<svg class="ic" style="left:266px;top:673px" width="16" height="16" viewBox="0 0 16 16"><use href="#u4"/></svg>
<div class="t n" style="left:124.3px;top:695px;width:300px;text-align:center;"><span>30</span></div>
<svg class="ic" style="left:312px;top:673px" width="16" height="16" viewBox="0 0 16 16"><use href="#u5"/></svg>
<div class="t n z" style="left:170.3px;top:695px;width:300px;text-align:center;"><span>0</span></div>
<svg class="ic" style="left:352px;top:673px" width="16" height="16" viewBox="0 0 16 16"><use href="#u6"/></svg>
<div class="t n z" style="left:209.8px;top:695px;width:300px;text-align:center;"><span>0</span></div>
<svg class="ic" style="left:385px;top:673px" width="16" height="16" viewBox="0 0 16 16"><use href="#u7"/></svg>
<div class="t n z" style="left:242.8px;top:695px;width:300px;text-align:center;"><span>0</span></div>
<svg class="ic" style="left:418px;top:673px" width="16" height="16" viewBox="0 0 16 16"><use href="#u8"/></svg>
<div class="t n z" style="left:275.8px;top:695px;width:300px;text-align:center;"><span>0</span></div>
<svg class="ic" style="left:451px;top:673px" width="16" height="16" viewBox="0 0 16 16"><use href="#u9"/></svg>
<div class="t n z" style="left:308.8px;top:695px;width:300px;text-align:center;"><span>0</span></div>
<svg class="ic" style="left:484px;top:673px" width="16" height="16" viewBox="0 0 16 16"><use href="#u10"/></svg>
<div class="t n z" style="left:341.8px;top:695px;width:300px;text-align:center;"><span>0</span></div>
<div class="t n" style="left:120.5px;top:718px;text-align:left;"><span class="ls">317</span></div>
<svg class="ic" style="left:145.8px;top:718px" width="16" height="12" viewBox="0 0 16 12"><use href="#wheat"/></svg>
<div class="t n" style="left:162.5px;top:718px;text-align:left;"><span class="ls">par heure</span></div>
<div class="hd" style="left:10px;top:748px;width:498px;height:20px"></div>
<div class="l" style="left:9px;top:747px;width:500px;height:1px"></div>
<div class="l" style="left:9px;top:768px;width:500px;height:1px"></div>
<div class="l" style="left:9px;top:789px;width:500px;height:1px"></div>
<div class="l" style="left:9px;top:810px;width:500px;height:1px"></div>
<div class="l" style="left:9px;top:812px;width:500px;height:1px"></div>
<div class="l" style="left:9px;top:833px;width:500px;height:1px"></div>
<div class="l" style="left:113px;top:747px;width:1px;height:64px"></div>
<div class="l" style="left:113px;top:812px;width:1px;height:22px"></div>
<div class="l" style="left:159px;top:768px;width:1px;height:43px"></div>
<div class="l" style="left:205px;top:768px;width:1px;height:43px"></div>
<div class="l" style="left:251px;top:768px;width:1px;height:43px"></div>
<div class="l" style="left:297px;top:768px;width:1px;height:43px"></div>
<div class="l" style="left:343px;top:768px;width:1px;height:43px"></div>
<div class="l" style="left:376px;top:768px;width:1px;height:43px"></div>
<div class="l" style="left:409px;top:768px;width:1px;height:43px"></div>
<div class="l" style="left:442px;top:768px;width:1px;height:43px"></div>
<div class="l" style="left:475px;top:768px;width:1px;height:43px"></div>
<div class="t b" style="left:-88.6px;top:751px;width:300px;text-align:center;--sx:1.16;"><span>Village</span></div>
<div class="t b g" style="left:161.0px;top:751px;width:300px;text-align:center;--sx:1.200;"><span>1.9 Bratuspantum</span></div>
<div class="t n" style="left:-88.7px;top:793px;width:300px;text-align:center;--sx:1.12;"><span>Unit&eacute;s</span></div>
<div class="t n" style="left:-89.0px;top:816px;width:300px;text-align:center;--sx:1.155;"><span>Entretien</span></div>
<svg class="ic" style="left:128px;top:771px" width="16" height="16" viewBox="0 0 16 16"><use href="#u1"/></svg>
<div class="t n z" style="left:-13.7px;top:793px;width:300px;text-align:center;"><span>0</span></div>
<svg class="ic" style="left:174px;top:771px" width="16" height="16" viewBox="0 0 16 16"><use href="#u2"/></svg>
<div class="t n z" style="left:32.3px;top:793px;width:300px;text-align:center;"><span>0</span></div>
<svg class="ic" style="left:220px;top:771px" width="16" height="16" viewBox="0 0 16 16"><use href="#u3"/></svg>
<div class="t n" style="left:78.3px;top:793px;width:300px;text-align:center;"><span>100</span></div>
<svg class="ic" style="left:266px;top:771px" width="16" height="16" viewBox="0 0 16 16"><use href="#u4"/></svg>
<div class="t n z" style="left:124.3px;top:793px;width:300px;text-align:center;"><span>0</span></div>
<svg class="ic" style="left:312px;top:771px" width="16" height="16" viewBox="0 0 16 16"><use href="#u5"/></svg>
<div class="t n z" style="left:170.3px;top:793px;width:300px;text-align:center;"><span>0</span></div>
<svg class="ic" style="left:352px;top:771px" width="16" height="16" viewBox="0 0 16 16"><use href="#u6"/></svg>
<div class="t n z" style="left:209.8px;top:793px;width:300px;text-align:center;"><span>0</span></div>
<svg class="ic" style="left:385px;top:771px" width="16" height="16" viewBox="0 0 16 16"><use href="#u7"/></svg>
<div class="t n z" style="left:242.8px;top:793px;width:300px;text-align:center;"><span>0</span></div>
<svg class="ic" style="left:418px;top:771px" width="16" height="16" viewBox="0 0 16 16"><use href="#u8"/></svg>
<div class="t n z" style="left:275.8px;top:793px;width:300px;text-align:center;"><span>0</span></div>
<svg class="ic" style="left:451px;top:771px" width="16" height="16" viewBox="0 0 16 16"><use href="#u9"/></svg>
<div class="t n" style="left:308.8px;top:793px;width:300px;text-align:center;"><span>1</span></div>
<svg class="ic" style="left:484px;top:771px" width="16" height="16" viewBox="0 0 16 16"><use href="#u10"/></svg>
<div class="t n z" style="left:341.8px;top:793px;width:300px;text-align:center;"><span>0</span></div>
<div class="t n" style="left:120.5px;top:816px;text-align:left;"><span class="ls">105</span></div>
<svg class="ic" style="left:145.8px;top:816px" width="16" height="12" viewBox="0 0 16 12"><use href="#wheat"/></svg>
<div class="t n" style="left:162.5px;top:816px;text-align:left;"><span class="ls">par heure</span></div>
<div class="hd" style="left:10px;top:851px;width:498px;height:20px"></div>
<div class="l" style="left:9px;top:850px;width:500px;height:1px"></div>
<div class="l" style="left:9px;top:871px;width:500px;height:1px"></div>
<div class="l" style="left:9px;top:892px;width:500px;height:1px"></div>
<div class="l" style="left:9px;top:913px;width:500px;height:1px"></div>
<div class="l" style="left:9px;top:915px;width:500px;height:1px"></div>
<div class="l" style="left:9px;top:936px;width:500px;height:1px"></div>
<div class="l" style="left:113px;top:850px;width:1px;height:64px"></div>
<div class="l" style="left:113px;top:915px;width:1px;height:22px"></div>
<div class="l" style="left:159px;top:871px;width:1px;height:43px"></div>
<div class="l" style="left:205px;top:871px;width:1px;height:43px"></div>
<div class="l" style="left:249px;top:871px;width:1px;height:43px"></div>
<div class="l" style="left:297px;top:871px;width:1px;height:43px"></div>
<div class="l" style="left:343px;top:871px;width:1px;height:43px"></div>
<div class="l" style="left:376px;top:871px;width:1px;height:43px"></div>
<div class="l" style="left:409px;top:871px;width:1px;height:43px"></div>
<div class="l" style="left:442px;top:871px;width:1px;height:43px"></div>
<div class="l" style="left:475px;top:871px;width:1px;height:43px"></div>
<div class="t b" style="left:-88.6px;top:854px;width:300px;text-align:center;--sx:1.16;"><span>Village</span></div>
<div class="t b g" style="left:161.0px;top:854px;width:300px;text-align:center;--sx:1.198;"><span>2.3 Samarobriva</span></div>
<div class="t n" style="left:-88.7px;top:896px;width:300px;text-align:center;--sx:1.12;"><span>Unit&eacute;s</span></div>
<div class="t n" style="left:-89.0px;top:919px;width:300px;text-align:center;--sx:1.155;"><span>Entretien</span></div>
<svg class="ic" style="left:128px;top:874px" width="16" height="16" viewBox="0 0 16 16"><use href="#u1"/></svg>
<div class="t n z" style="left:-13.7px;top:896px;width:300px;text-align:center;"><span>0</span></div>
<svg class="ic" style="left:174px;top:874px" width="16" height="16" viewBox="0 0 16 16"><use href="#u2"/></svg>
<div class="t n z" style="left:32.3px;top:896px;width:300px;text-align:center;"><span>0</span></div>
<svg class="ic" style="left:220px;top:874px" width="16" height="16" viewBox="0 0 16 16"><use href="#u3"/></svg>
<div class="t n" style="left:78.3px;top:896px;width:300px;text-align:center;"><span>563</span></div>
<svg class="ic" style="left:266px;top:874px" width="16" height="16" viewBox="0 0 16 16"><use href="#u4"/></svg>
<div class="t n z" style="left:124.3px;top:896px;width:300px;text-align:center;"><span>0</span></div>
<svg class="ic" style="left:311px;top:874px" width="16" height="16" viewBox="0 0 16 16"><use href="#u5"/></svg>
<div class="t n" style="left:170.3px;top:896px;width:300px;text-align:center;"><span>16</span></div>
<svg class="ic" style="left:352px;top:874px" width="16" height="16" viewBox="0 0 16 16"><use href="#u6"/></svg>
<div class="t n z" style="left:209.8px;top:896px;width:300px;text-align:center;"><span>0</span></div>
<svg class="ic" style="left:385px;top:874px" width="16" height="16" viewBox="0 0 16 16"><use href="#u7"/></svg>
<div class="t n z" style="left:242.8px;top:896px;width:300px;text-align:center;"><span>0</span></div>
<svg class="ic" style="left:418px;top:874px" width="16" height="16" viewBox="0 0 16 16"><use href="#u8"/></svg>
<div class="t n" style="left:275.8px;top:896px;width:300px;text-align:center;"><span>4</span></div>
<svg class="ic" style="left:451px;top:874px" width="16" height="16" viewBox="0 0 16 16"><use href="#u9"/></svg>
<div class="t n z" style="left:308.8px;top:896px;width:300px;text-align:center;"><span>0</span></div>
<svg class="ic" style="left:484px;top:874px" width="16" height="16" viewBox="0 0 16 16"><use href="#u10"/></svg>
<div class="t n z" style="left:341.8px;top:896px;width:300px;text-align:center;"><span>0</span></div>
<div class="t n" style="left:120.5px;top:919px;text-align:left;"><span class="ls">27</span></div>
<svg class="ic" style="left:137.5px;top:919px" width="16" height="12" viewBox="0 0 16 12"><use href="#wheat"/></svg>
<div class="t n" style="left:154.2px;top:919px;text-align:left;"><span class="ls">par heure</span></div>
<svg class="chart" style="left:515px;top:300px" width="511" height="290" viewBox="0 0 511 290">
<defs><clipPath id="ac"><polygon points="46.5,235.5 46.5,175.8 52.4,174.2 58.7,177.5 65.1,174.2 71.4,174.2 77.7,174.2 84.1,170.3 90.4,170.3 96.7,174.2 103.1,177.3 109.4,180.3 115.7,176.2 122.1,176.2 128.4,176.2 134.7,175.3 141.1,167.0 147.4,173.7 153.7,165.3 160.1,163.7 166.4,160.3 172.7,160.3 179.1,161.7 185.4,165.3 191.7,165.3 198.1,165.3 204.4,165.3 210.7,164.2 217.1,164.2 223.4,164.2 229.7,161.3 236.1,163.3 242.4,155.0 248.7,145.8 255.1,112.0 261.4,169.7 267.7,148.3 274.1,143.3 280.4,145.3 286.7,140.8 293.1,131.3 299.4,121.7 305.7,118.0 312.1,106.7 318.4,88.3 324.7,84.7 331.1,52.0 337.4,80.5 343.7,73.8 350.1,69.7 356.4,68.3 362.7,68.3 369.1,68.3 375.4,68.3 381.7,67.3 388.1,66.3 394.4,65.3 400.7,47.0 407.1,47.0 413.4,47.0 419.7,47.0 426.1,64.2 432.4,63.2 438.7,62.2 445.1,61.3 451.4,61.3 457.7,83.3 464.1,85.8 470.4,89.5 476.7,84.2 483.1,132.5 489.4,141.3 495.5,128.3 495.5,235.5"/></clipPath></defs>
<line x1="53" y1="197.5" x2="495" y2="197.5" stroke="#d6d6d6" stroke-width="1"/>
<line x1="53" y1="159.5" x2="495" y2="159.5" stroke="#d6d6d6" stroke-width="1"/>
<line x1="53" y1="122.5" x2="495" y2="122.5" stroke="#d6d6d6" stroke-width="1"/>
<line x1="53" y1="84.5" x2="495" y2="84.5" stroke="#d6d6d6" stroke-width="1"/>
<polygon points="46.5,235.5 46.5,175.8 52.4,174.2 58.7,177.5 65.1,174.2 71.4,174.2 77.7,174.2 84.1,170.3 90.4,170.3 96.7,174.2 103.1,177.3 109.4,180.3 115.7,176.2 122.1,176.2 128.4,176.2 134.7,175.3 141.1,167.0 147.4,173.7 153.7,165.3 160.1,163.7 166.4,160.3 172.7,160.3 179.1,161.7 185.4,165.3 191.7,165.3 198.1,165.3 204.4,165.3 210.7,164.2 217.1,164.2 223.4,164.2 229.7,161.3 236.1,163.3 242.4,155.0 248.7,145.8 255.1,112.0 261.4,169.7 267.7,148.3 274.1,143.3 280.4,145.3 286.7,140.8 293.1,131.3 299.4,121.7 305.7,118.0 312.1,106.7 318.4,88.3 324.7,84.7 331.1,52.0 337.4,80.5 343.7,73.8 350.1,69.7 356.4,68.3 362.7,68.3 369.1,68.3 375.4,68.3 381.7,67.3 388.1,66.3 394.4,65.3 400.7,47.0 407.1,47.0 413.4,47.0 419.7,47.0 426.1,64.2 432.4,63.2 438.7,62.2 445.1,61.3 451.4,61.3 457.7,83.3 464.1,85.8 470.4,89.5 476.7,84.2 483.1,132.5 489.4,141.3 495.5,128.3 495.5,235.5" fill="#b8e67e"/>
<polyline points="46.5,175.8 52.4,174.2 58.7,177.5 65.1,174.2 71.4,174.2 77.7,174.2 84.1,170.3 90.4,170.3 96.7,174.2 103.1,177.3 109.4,180.3 115.7,176.2 122.1,176.2 128.4,176.2 134.7,175.3 141.1,167.0 147.4,173.7 153.7,165.3 160.1,163.7 166.4,160.3 172.7,160.3 179.1,161.7 185.4,165.3 191.7,165.3 198.1,165.3 204.4,165.3 210.7,164.2 217.1,164.2 223.4,164.2 229.7,161.3 236.1,163.3 242.4,155.0 248.7,145.8 255.1,112.0 261.4,169.7 267.7,148.3 274.1,143.3 280.4,145.3 286.7,140.8 293.1,131.3 299.4,121.7 305.7,118.0 312.1,106.7 318.4,88.3 324.7,84.7 331.1,52.0 337.4,80.5 343.7,73.8 350.1,69.7 356.4,68.3 362.7,68.3 369.1,68.3 375.4,68.3 381.7,67.3 388.1,66.3 394.4,65.3 400.7,47.0 407.1,47.0 413.4,47.0 419.7,47.0 426.1,64.2 432.4,63.2 438.7,62.2 445.1,61.3 451.4,61.3 457.7,83.3 464.1,85.8 470.4,89.5 476.7,84.2 483.1,132.5 489.4,141.3 495.5,128.3" fill="none" stroke="#6b8f6b" stroke-width="0.9"/>
<g clip-path="url(#ac)">
<line x1="53" y1="197.5" x2="495" y2="197.5" stroke="#a6cf74" stroke-width="1"/>
<line x1="53" y1="159.5" x2="495" y2="159.5" stroke="#a6cf74" stroke-width="1"/>
<line x1="53" y1="122.5" x2="495" y2="122.5" stroke="#a6cf74" stroke-width="1"/>
<line x1="53" y1="84.5" x2="495" y2="84.5" stroke="#a6cf74" stroke-width="1"/>
</g>
<polygon points="248.3,235.5 255.4,205 261.9,235.5" fill="#2f7ed8"/>
<polygon points="324.3,235.5 331.4,205.8 337.9,235.5" fill="#2f7ed8"/>
<polygon points="394.7,235.5 400.4,218 419.7,218 425.5,235.5" fill="#2f7ed8"/>
<rect x="46.5" y="46.5" width="449" height="189" fill="none" stroke="#000" stroke-width="1"/>
<line x1="47" y1="216.5" x2="50" y2="216.5" stroke="#000"/>
<line x1="47" y1="197.5" x2="52" y2="197.5" stroke="#000"/>
<line x1="47" y1="178.5" x2="50" y2="178.5" stroke="#000"/>
<line x1="47" y1="159.5" x2="52" y2="159.5" stroke="#000"/>
<line x1="47" y1="141.5" x2="50" y2="141.5" stroke="#000"/>
<line x1="47" y1="122.5" x2="52" y2="122.5" stroke="#000"/>
<line x1="47" y1="103.5" x2="50" y2="103.5" stroke="#000"/>
<line x1="47" y1="84.5" x2="52" y2="84.5" stroke="#000"/>
<line x1="47" y1="65.5" x2="50" y2="65.5" stroke="#000"/>
<line x1="52.5" y1="230" x2="52.5" y2="235" stroke="#000"/>
<line x1="59.5" y1="230" x2="59.5" y2="235" stroke="#000"/>
<line x1="65.5" y1="230" x2="65.5" y2="235" stroke="#000"/>
<line x1="71.5" y1="230" x2="71.5" y2="235" stroke="#000"/>
<line x1="78.5" y1="230" x2="78.5" y2="235" stroke="#000"/>
<line x1="84.5" y1="230" x2="84.5" y2="235" stroke="#000"/>
<line x1="90.5" y1="230" x2="90.5" y2="235" stroke="#000"/>
<line x1="97.5" y1="230" x2="97.5" y2="235" stroke="#000"/>
<line x1="103.5" y1="230" x2="103.5" y2="235" stroke="#000"/>
<line x1="109.5" y1="230" x2="109.5" y2="235" stroke="#000"/>
<line x1="116.5" y1="230" x2="116.5" y2="235" stroke="#000"/>
<line x1="122.5" y1="230" x2="122.5" y2="235" stroke="#000"/>
<line x1="128.5" y1="230" x2="128.5" y2="235" stroke="#000"/>
<line x1="135.5" y1="230" x2="135.5" y2="235" stroke="#000"/>
<line x1="141.5" y1="230" x2="141.5" y2="235" stroke="#000"/>
<line x1="147.5" y1="230" x2="147.5" y2="235" stroke="#000"/>
<line x1="154.5" y1="230" x2="154.5" y2="235" stroke="#000"/>
<line x1="160.5" y1="230" x2="160.5" y2="235" stroke="#000"/>
<line x1="166.5" y1="230" x2="166.5" y2="235" stroke="#000"/>
<line x1="173.5" y1="230" x2="173.5" y2="235" stroke="#000"/>
<line x1="179.5" y1="230" x2="179.5" y2="235" stroke="#000"/>
<line x1="185.5" y1="230" x2="185.5" y2="235" stroke="#000"/>
<line x1="192.5" y1="230" x2="192.5" y2="235" stroke="#000"/>
<line x1="198.5" y1="230" x2="198.5" y2="235" stroke="#000"/>
<line x1="204.5" y1="230" x2="204.5" y2="235" stroke="#000"/>
<line x1="211.5" y1="230" x2="211.5" y2="235" stroke="#000"/>
<line x1="217.5" y1="230" x2="217.5" y2="235" stroke="#000"/>
<line x1="223.5" y1="230" x2="223.5" y2="235" stroke="#000"/>
<line x1="230.5" y1="230" x2="230.5" y2="235" stroke="#000"/>
<line x1="236.5" y1="230" x2="236.5" y2="235" stroke="#000"/>
<line x1="242.5" y1="230" x2="242.5" y2="235" stroke="#000"/>
<line x1="249.5" y1="230" x2="249.5" y2="235" stroke="#000"/>
<line x1="255.5" y1="230" x2="255.5" y2="235" stroke="#000"/>
<line x1="261.5" y1="230" x2="261.5" y2="235" stroke="#000"/>
<line x1="268.5" y1="230" x2="268.5" y2="235" stroke="#000"/>
<line x1="274.5" y1="230" x2="274.5" y2="235" stroke="#000"/>
<line x1="280.5" y1="230" x2="280.5" y2="235" stroke="#000"/>
<line x1="287.5" y1="230" x2="287.5" y2="235" stroke="#000"/>
<line x1="293.5" y1="230" x2="293.5" y2="235" stroke="#000"/>
<line x1="299.5" y1="230" x2="299.5" y2="235" stroke="#000"/>
<line x1="306.5" y1="230" x2="306.5" y2="235" stroke="#000"/>
<line x1="312.5" y1="230" x2="312.5" y2="235" stroke="#000"/>
<line x1="318.5" y1="230" x2="318.5" y2="235" stroke="#000"/>
<line x1="325.5" y1="230" x2="325.5" y2="235" stroke="#000"/>
<line x1="331.5" y1="230" x2="331.5" y2="235" stroke="#000"/>
<line x1="337.5" y1="230" x2="337.5" y2="235" stroke="#000"/>
<line x1="344.5" y1="230" x2="344.5" y2="235" stroke="#000"/>
<line x1="350.5" y1="230" x2="350.5" y2="235" stroke="#000"/>
<line x1="356.5" y1="230" x2="356.5" y2="235" stroke="#000"/>
<line x1="363.5" y1="230" x2="363.5" y2="235" stroke="#000"/>
<line x1="369.5" y1="230" x2="369.5" y2="235" stroke="#000"/>
<line x1="375.5" y1="230" x2="375.5" y2="235" stroke="#000"/>
<line x1="382.5" y1="230" x2="382.5" y2="235" stroke="#000"/>
<line x1="388.5" y1="230" x2="388.5" y2="235" stroke="#000"/>
<line x1="394.5" y1="230" x2="394.5" y2="235" stroke="#000"/>
<line x1="401.5" y1="230" x2="401.5" y2="235" stroke="#000"/>
<line x1="407.5" y1="230" x2="407.5" y2="235" stroke="#000"/>
<line x1="413.5" y1="230" x2="413.5" y2="235" stroke="#000"/>
<line x1="420.5" y1="230" x2="420.5" y2="235" stroke="#000"/>
<line x1="426.5" y1="230" x2="426.5" y2="235" stroke="#000"/>
<line x1="432.5" y1="230" x2="432.5" y2="235" stroke="#000"/>
<line x1="439.5" y1="230" x2="439.5" y2="235" stroke="#000"/>
<line x1="445.5" y1="230" x2="445.5" y2="235" stroke="#000"/>
<line x1="451.5" y1="230" x2="451.5" y2="235" stroke="#000"/>
<line x1="458.5" y1="230" x2="458.5" y2="235" stroke="#000"/>
<line x1="464.5" y1="230" x2="464.5" y2="235" stroke="#000"/>
<line x1="470.5" y1="230" x2="470.5" y2="235" stroke="#000"/>
<line x1="477.5" y1="230" x2="477.5" y2="235" stroke="#000"/>
<line x1="483.5" y1="230" x2="483.5" y2="235" stroke="#000"/>
<line x1="489.5" y1="230" x2="489.5" y2="235" stroke="#000"/>
<text x="38.3" y="240.1" text-anchor="end" class="yl">0</text>
<text x="38.3" y="202.1" text-anchor="end" class="yl">2000</text>
<text x="38.3" y="164.1" text-anchor="end" class="yl">4000</text>
<text x="38.3" y="127.1" text-anchor="end" class="yl">6000</text>
<text x="38.3" y="89.1" text-anchor="end" class="yl">8000</text>
<text x="38.3" y="52.1" text-anchor="end" class="yl">10000</text>
<text transform="translate(62.3,238.6) rotate(-45)" text-anchor="end" class="xl" dy="0.72em">25.06</text>
<text transform="translate(87.3,238.6) rotate(-45)" text-anchor="end" class="xl" dy="0.72em">29.06</text>
<text transform="translate(112.3,238.6) rotate(-45)" text-anchor="end" class="xl" dy="0.72em">03.07</text>
<text transform="translate(138.3,238.6) rotate(-45)" text-anchor="end" class="xl" dy="0.72em">07.07</text>
<text transform="translate(163.3,238.6) rotate(-45)" text-anchor="end" class="xl" dy="0.72em">11.07</text>
<text transform="translate(188.3,238.6) rotate(-45)" text-anchor="end" class="xl" dy="0.72em">15.07</text>
<text transform="translate(214.3,238.6) rotate(-45)" text-anchor="end" class="xl" dy="0.72em">19.07</text>
<text transform="translate(239.3,238.6) rotate(-45)" text-anchor="end" class="xl" dy="0.72em">23.07</text>
<text transform="translate(264.3,238.6) rotate(-45)" text-anchor="end" class="xl" dy="0.72em">27.07</text>
<text transform="translate(290.3,238.6) rotate(-45)" text-anchor="end" class="xl" dy="0.72em">31.07</text>
<text transform="translate(315.3,238.6) rotate(-45)" text-anchor="end" class="xl" dy="0.72em">04.08</text>
<text transform="translate(340.3,238.6) rotate(-45)" text-anchor="end" class="xl" dy="0.72em">08.08</text>
<text transform="translate(366.3,238.6) rotate(-45)" text-anchor="end" class="xl" dy="0.72em">12.08</text>
<text transform="translate(391.3,238.6) rotate(-45)" text-anchor="end" class="xl" dy="0.72em">16.08</text>
<text transform="translate(416.3,238.6) rotate(-45)" text-anchor="end" class="xl" dy="0.72em">20.08</text>
<text transform="translate(442.3,238.6) rotate(-45)" text-anchor="end" class="xl" dy="0.72em">24.08</text>
<text transform="translate(467.3,238.6) rotate(-45)" text-anchor="end" class="xl" dy="0.72em">28.08</text>
<text transform="translate(492.3,238.6) rotate(-45)" text-anchor="end" class="xl" dy="0.72em">01.09</text>
<rect x="107.5" y="62.5" width="71" height="43" fill="#fff" stroke="#fff" stroke-width="2"/>
<rect x="108.5" y="63.5" width="69" height="41" fill="#ebebeb" stroke="#000"/>
<rect x="118.5" y="71.5" width="8" height="8" fill="#b8e67e" stroke="#000"/>
<rect x="118.5" y="87.5" width="8" height="8" fill="#3883ea" stroke="#000"/>
<text x="130.5" y="79" class="lg">Total</text>
<text x="130.5" y="95" class="lg">Soutien</text>
</svg>
<div class="title"><span>Nombre d'unit&eacute;s</span></div>
</div>
</body></html>
